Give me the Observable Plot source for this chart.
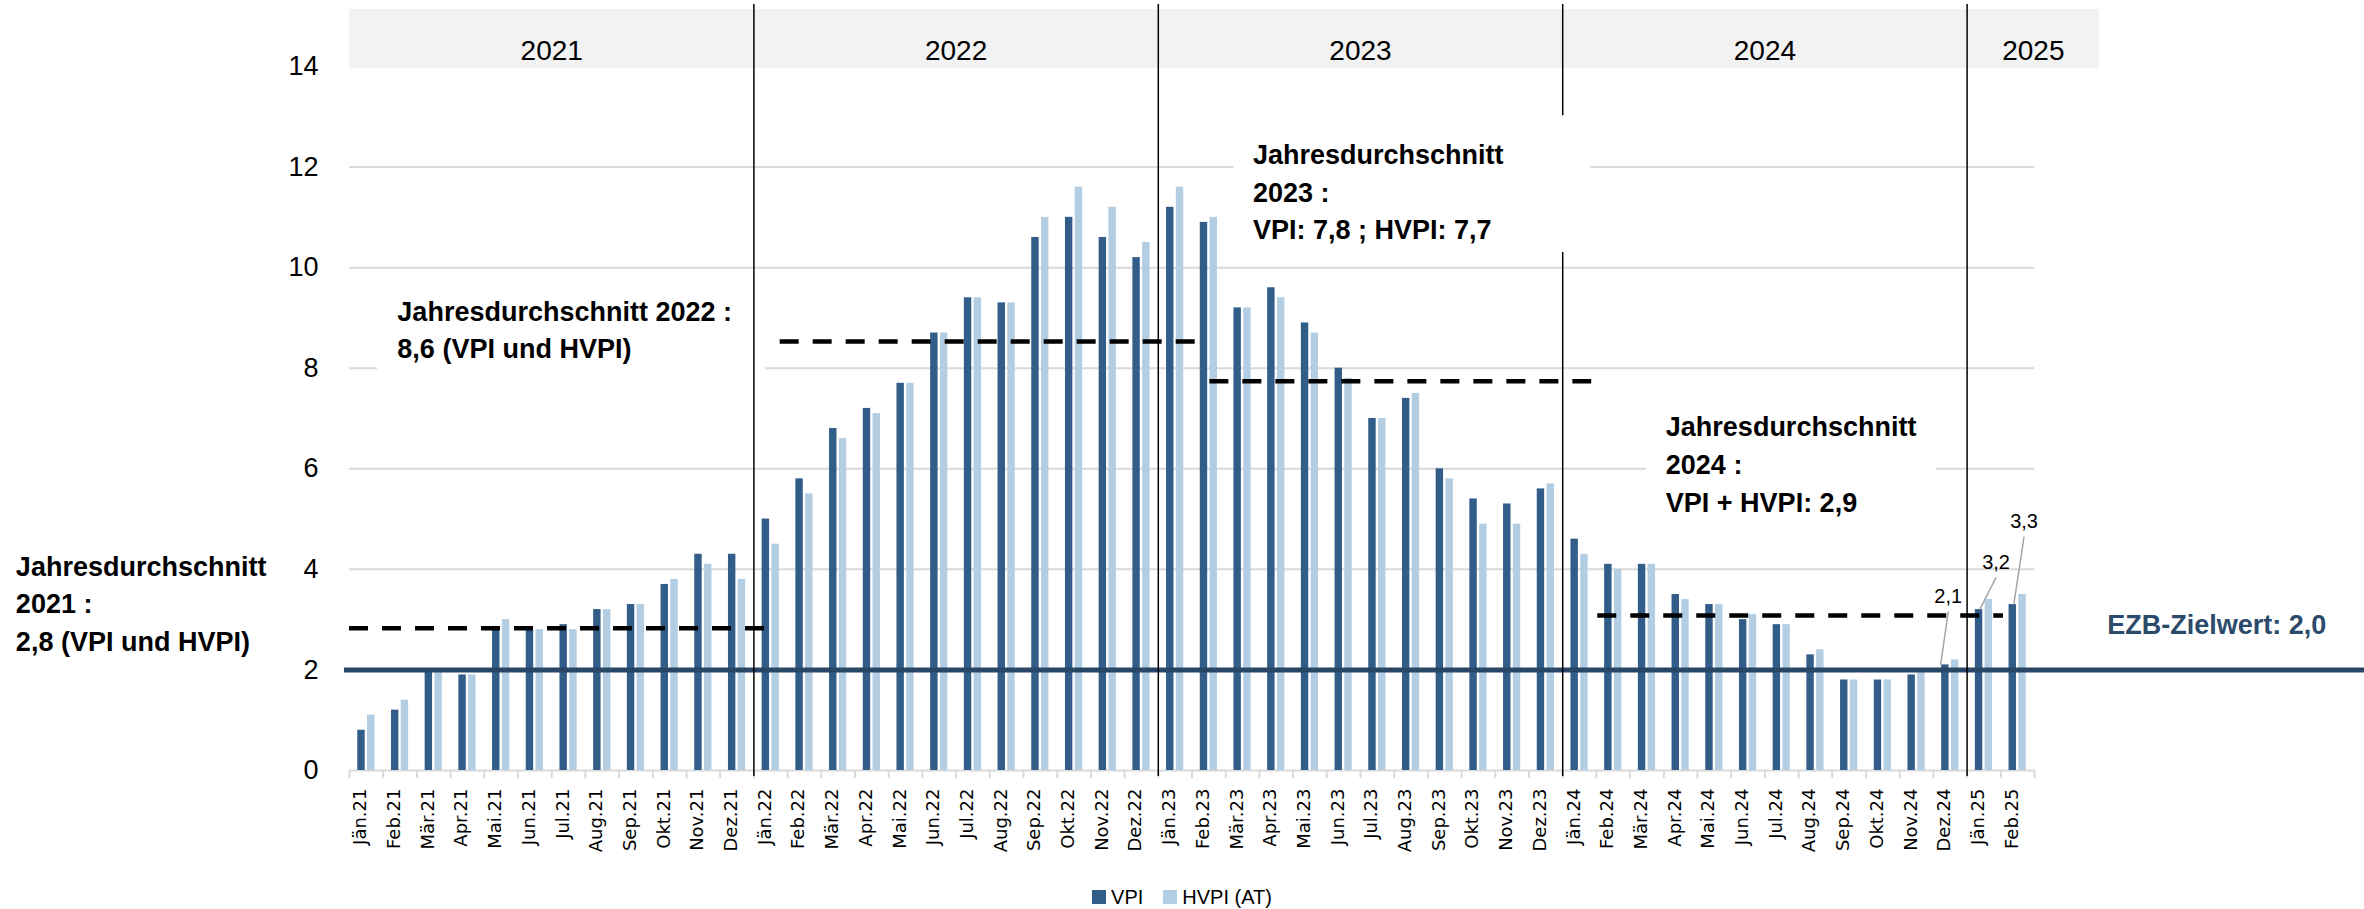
<!DOCTYPE html>
<html>
<head>
<meta charset="utf-8">
<script src="https://cdn.jsdelivr.net/npm/d3@7"></script>
<script src="https://cdn.jsdelivr.net/npm/@observablehq/plot@0.6"></script>
<style>
  html, body { margin: 0; padding: 0; background: #fff; overflow: hidden; }
  #legend { display: flex; justify-content: center; align-items: center; height: 34px;
            font-family: "Liberation Sans", Arial, sans-serif; font-size: 20px; color: #000; }
  .item { display: flex; align-items: center; margin: 0 10px; }
  .sw { width: 14px; height: 14px; margin-right: 5px; }
</style>
</head>
<body>
<div id="chart"></div>
<div id="legend"></div>
<script>
// ---------- data ----------
const months = [
  "Jän.21","Feb.21","Mär.21","Apr.21","Mai.21","Jun.21","Jul.21","Aug.21","Sep.21","Okt.21","Nov.21","Dez.21",
  "Jän.22","Feb.22","Mär.22","Apr.22","Mai.22","Jun.22","Jul.22","Aug.22","Sep.22","Okt.22","Nov.22","Dez.22",
  "Jän.23","Feb.23","Mär.23","Apr.23","Mai.23","Jun.23","Jul.23","Aug.23","Sep.23","Okt.23","Nov.23","Dez.23",
  "Jän.24","Feb.24","Mär.24","Apr.24","Mai.24","Jun.24","Jul.24","Aug.24","Sep.24","Okt.24","Nov.24","Dez.24",
  "Jän.25","Feb.25"
];
const vpi = [
  0.8, 1.2, 2.0, 1.9, 2.8, 2.8, 2.9, 3.2, 3.3, 3.7, 4.3, 4.3,
  5.0, 5.8, 6.8, 7.2, 7.7, 8.7, 9.4, 9.3, 10.6, 11.0, 10.6, 10.2,
  11.2, 10.9, 9.2, 9.6, 8.9, 8.0, 7.0, 7.4, 6.0, 5.4, 5.3, 5.6,
  4.6, 4.1, 4.1, 3.5, 3.3, 3.0, 2.9, 2.3, 1.8, 1.8, 1.9, 2.1,
  3.2, 3.3
];
const hvpi = [
  1.1, 1.4, 2.0, 1.9, 3.0, 2.8, 2.8, 3.2, 3.3, 3.8, 4.1, 3.8,
  4.5, 5.5, 6.6, 7.1, 7.7, 8.7, 9.4, 9.3, 11.0, 11.6, 11.2, 10.5,
  11.6, 11.0, 9.2, 9.4, 8.7, 7.8, 7.0, 7.5, 5.8, 4.9, 4.9, 5.7,
  4.3, 4.0, 4.1, 3.4, 3.3, 3.1, 2.9, 2.4, 1.8, 1.8, 2.0, 2.2,
  3.4, 3.5
];
const seriesNames = ["VPI", "HVPI (AT)"];
const seriesColors = ["#315d88", "#b3cde3"];
const avgYears = ["2021", "2022", "2023", "2024"];
const avgValues = [2.83, 8.53, 7.74, 3.08];           // level at which the dashed lines are drawn
const avgFrom = ["Jän.21", "Jän.22", "Jän.23", "Jän.24"];
const ezbTarget = 2.0;
const ezbLabel = "EZB-Zielwert: 2,0";
const annotationTexts = [
  "Jahresdurchschnitt\n2021 :\n2,8 (VPI und HVPI)",
  "Jahresdurchschnitt 2022 :\n8,6 (VPI und HVPI)",
  "Jahresdurchschnitt\n2023 :\nVPI: 7,8 ; HVPI: 7,7",
  "Jahresdurchschnitt\n2024 :\nVPI + HVPI: 2,9"
];
const labelMonths = ["Dez.24", "Jän.25", "Feb.25"];
const labelValues = [2.1, 3.2, 3.3];
const labelTexts = ["2,1", "3,2", "3,3"];

// ---------- derived tables ----------
const rows = months.flatMap((m, i) => [
  {i, month: m, series: seriesNames[0], value: vpi[i]},
  {i, month: m, series: seriesNames[1], value: hvpi[i]}
]);
const yearNames = Array.from(new Set(months.map(m => "20" + m.slice(-2))));
const yearCells = yearNames.map((y, k) => {
  const idx = months.map((m, i) => ("20" + m.slice(-2)) === y ? i : -1).filter(i => i >= 0);
  const last = k === yearNames.length - 1;
  return {year: y, start: idx[0], end: idx[idx.length - 1] + 1 + (last ? 1.93 : 0)};
});
const boundaries = yearCells.slice(1).map(c => c.start);
const idxOf = m => months.indexOf(m);

// dashed average spans (month units)
const avgSpans = [[0, 12.49], [12.78, 25.27], [25.53, 36.86], [37.04, 49.08]];
const avgRows = avgYears.map((y, k) => ({year: y, value: avgValues[k], x1: avgSpans[k][0], x2: avgSpans[k][1]}));

// annotation layout (month units / percent units)
const annoPos = [[-9.9, 4.41], [1.42, 9.48], [26.81, 12.6], [39.06, 7.18]];
const annotations = annotationTexts.map((t, k) => ({text: t, x: annoPos[k][0], y: annoPos[k][1]}));
const boxesBelow = [{x1: 0.83, x2: 12.34, y1: 7.85, y2: 9.84}, {x1: 38.49, x2: 47.09, y1: 4.77, y2: 7.46}];
const boxesAbove = [{x1: 26.25, x2: 36.83, y1: 10.3, y2: 13.02}];

const labelPos = [[47.44, 3.46], [48.86, 4.14], [49.69, 4.95]];
const labelEnds = [-0.14, 0.02, 0.03];
const labels = labelTexts.map((t, k) => ({
  text: t, value: labelValues[k], month: labelMonths[k],
  lx: labelPos[k][0], ly: labelPos[k][1],
  bx: idxOf(labelMonths[k]) + 0.5 - 0.145 + labelEnds[k]
}));

const W = 2364, H = 880;
const sans = "Liberation Sans, Arial, sans-serif";

const chart = Plot.plot({
  width: W,
  height: H,
  marginLeft: 349,
  marginRight: W - 2034,
  marginTop: 66,
  marginBottom: H - 770,
  style: {fontFamily: sans, background: "#fff", overflow: "visible"},
  x: {type: "linear", domain: [0, months.length]},
  y: {domain: [0, 14]},
  color: {domain: seriesNames, range: seriesColors},
  marks: [
    // header band with years
    Plot.rect(yearCells, {x1: "start", x2: "end", fill: "#f2f2f2", insetTop: -57, insetBottom: 702}),
    Plot.text(yearCells, {x: d => (d.start + d.end) / 2, text: "year", frameAnchor: "top", dy: -26,
      fontSize: 28, fill: "#000"}),
    // grid
    Plot.gridY(d3.range(2, 13, 2), {stroke: "#d9d9d9", strokeOpacity: 1, strokeWidth: 2}),
    Plot.rect(boxesBelow, {x1: "x1", x2: "x2", y1: "y1", y2: "y2", fill: "#fff"}),
    Plot.ruleY([0], {stroke: "#d9d9d9", strokeWidth: 2}),
    Plot.axisX({ticks: d3.range(months.length + 1), tickSize: 8, tickFormat: () => "",
      stroke: "#d9d9d9", strokeWidth: 2, label: null}),
    // bars
    Plot.rect(rows, {
      x1: d => d.i + 0.5 + (d.series === seriesNames[0] ? -0.255 : 0.035),
      x2: d => d.i + 0.5 + (d.series === seriesNames[0] ? -0.035 : 0.255),
      y1: 0, y2: "value", fill: "series"
    }),
    // yearly averages
    Plot.ruleY(avgRows, {y: "value", x1: "x1", x2: "x2", stroke: "#000", strokeWidth: 4.5,
      strokeDasharray: "19 14"}),
    // ECB target
    Plot.ruleY([ezbTarget], {x1: -0.15, x2: 60, stroke: "#284766", strokeWidth: 5}),
    // year separators
    Plot.ruleX(boundaries, {x: d => d, stroke: "#000", strokeWidth: 1.5, insetTop: -62, insetBottom: -6}),
    Plot.rect(boxesAbove, {x1: "x1", x2: "x2", y1: "y1", y2: "y2", fill: "#fff"}),
    // annotations
    Plot.text(annotations, {x: "x", y: "y", text: "text", textAnchor: "start", lineAnchor: "top",
      lineHeight: 1.4, fontSize: 27, fontWeight: "bold", fill: "#000"}),
    Plot.text([ezbLabel], {x: 52.16, y: ezbTarget, dy: -45, text: d => d, textAnchor: "start",
      fontSize: 27, fontWeight: "bold", fill: "#2c4a6b"}),
    // data labels with leader lines
    Plot.link(labels, {x1: "bx", y1: "value", x2: "lx", y2: d => d.ly - 0.3, stroke: "#a6a6a6", strokeWidth: 1.5}),
    Plot.text(labels, {x: "lx", y: "ly", text: "text", fontSize: 20, fill: "#000"}),
    // x labels
    Plot.text(months, {x: (d, i) => i + 0.5, text: d => d, frameAnchor: "bottom", rotate: -90,
      textAnchor: "end", dy: 18, fontSize: 18, fontFamily: "DejaVu Sans, Verdana, sans-serif", fill: "#000"}),
    // y axis
    Plot.axisY({ticks: d3.range(0, 15, 2), tickSize: 0, tickPadding: 31, fontSize: 27, label: null})
  ]
});
document.getElementById("chart").appendChild(chart);

// legend
const legend = document.getElementById("legend");
seriesNames.forEach((s, k) => {
  const item = document.createElement("div");
  item.className = "item";
  const sw = document.createElement("div");
  sw.className = "sw";
  sw.style.background = seriesColors[k];
  const tx = document.createElement("span");
  tx.textContent = s;
  item.appendChild(sw);
  item.appendChild(tx);
  legend.appendChild(item);
});
</script>
</body>
</html>
